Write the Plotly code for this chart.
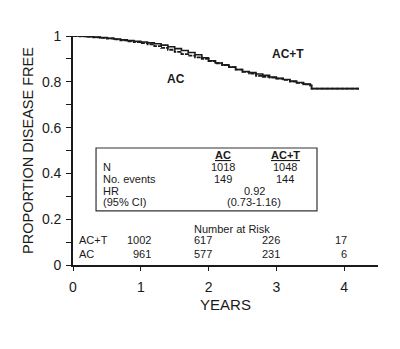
import plotly.graph_objects as go

# Kaplan-Meier step curves (years, proportion disease free)
years = [0, 0.1, 0.2, 0.3, 0.4, 0.5, 0.6, 0.7, 0.8, 0.9, 1.0, 1.1, 1.2, 1.3, 1.4, 1.5, 1.6, 1.7, 1.8, 1.9,
         2.0, 2.1, 2.2, 2.3, 2.4, 2.5, 2.6, 2.7, 2.8, 2.9, 3.0, 3.1, 3.2, 3.3, 3.4, 3.5, 3.52, 4.22]
surv_act = [1.0, 0.999, 0.997, 0.995, 0.993, 0.99, 0.987, 0.983, 0.98, 0.977,
            0.974, 0.97, 0.966, 0.96, 0.953, 0.945, 0.937, 0.928, 0.918, 0.905,
            0.892, 0.882, 0.874, 0.864, 0.854, 0.845, 0.84, 0.834, 0.828, 0.821,
            0.815, 0.81, 0.803, 0.797, 0.79, 0.785, 0.77, 0.77]
surv_ac = [1.0, 0.999, 0.997, 0.994, 0.992, 0.989, 0.985, 0.981, 0.977, 0.973,
           0.969, 0.963, 0.956, 0.948, 0.94, 0.931, 0.921, 0.914, 0.907, 0.9,
           0.89, 0.881, 0.873, 0.864, 0.853, 0.843, 0.836, 0.826, 0.822, 0.818,
           0.814, 0.808, 0.801, 0.795, 0.789, 0.783, 0.77, 0.77]

# Number at risk table
risk_times = [1, 2, 3, 4]
risk_act = [1002, 617, 226, 17]
risk_ac = [961, 577, 231, 6]

# Summary statistics
groups = ["AC", "AC+T"]
n_patients = [1018, 1048]
n_events = [149, 144]
hazard_ratio = "0.92"
hr_ci = "(0.73-1.16)"

yticks = [0, 0.2, 0.4, 0.6, 0.8, 1.0]
yticktext = ["0", "0.2", "0.4", "0.6", "0.8", "1"]
xticks = [0, 1, 2, 3, 4]

FONT = "Liberation Sans, Arial, sans-serif"
INK = "#1a1a1a"

fig = go.Figure()
fig.add_trace(go.Scatter(x=years, y=surv_ac, mode="lines",
                         line=dict(shape="hv", color=INK, width=1.8, dash="4px,1px"), name="AC"))
fig.add_trace(go.Scatter(x=years, y=surv_act, mode="lines",
                         line=dict(shape="hv", color=INK, width=1.6), name="AC+T"))

ann = []
def txt(x, y, s, size=11, xanchor="center", bold=False):
    if bold:
        s = "<b>" + s + "</b>"
    ann.append(dict(x=x, y=y, xref="x", yref="y", text=s, showarrow=False,
                    xanchor=xanchor, yanchor="middle",
                    font=dict(family=FONT, size=size, color=INK)))

# curve labels
txt(3.17, 0.921, "AC+T", size=12, bold=True)
txt(1.52, 0.812, "AC", size=12, bold=True)

# summary box
fig.add_shape(type="rect", x0=0.34, x1=3.6, y0=0.236, y1=0.511, xref="x", yref="y",
              line=dict(color="#333", width=1.2))
col_x = [2.22, 3.13]
row_y = [0.48, 0.428, 0.375, 0.325, 0.277]
txt(0.41, row_y[1], "N", xanchor="left")
txt(0.41, row_y[2], "No. events", xanchor="left")
txt(0.41, row_y[3], "HR", xanchor="left")
txt(0.41, row_y[4], "(95% CI)", xanchor="left")
for cx, g, n, e in zip(col_x, groups, n_patients, n_events):
    txt(cx, row_y[0], "<u>" + g + "</u>", bold=True)
    txt(cx, row_y[1], str(n))
    txt(cx, row_y[2], str(e))
mid = (col_x[0] + col_x[1]) / 2
txt(mid, row_y[3], hazard_ratio)
txt(mid, row_y[4], hr_ci)

# number at risk
txt(2.35, 0.157, "Number at Risk")
txt(0.06, 0.11, "AC+T", xanchor="left")
txt(0.06, 0.048, "AC", xanchor="left")
col_shift = [0.18, 0.08, 0.08, 0.07]
for t, a, b, dx in zip(risk_times, risk_act, risk_ac, col_shift):
    txt(t + dx, 0.11, str(a), xanchor="right")
    txt(t + dx, 0.048, str(b), xanchor="right")

fig.update_layout(
    width=400, height=349,
    margin=dict(l=73, r=22, t=36, b=84),
    paper_bgcolor="white", plot_bgcolor="white",
    showlegend=False,
    annotations=ann,
    font=dict(family=FONT, color=INK),
    xaxis=dict(range=[0, 4.5], tickvals=xticks, ticks="outside", ticklen=4, tickwidth=1.2,
               tickcolor=INK, showline=True, linecolor=INK, linewidth=1.6, showgrid=False,
               zeroline=False, ticklabelstandoff=4, tickfont=dict(size=14, family=FONT, color=INK),
               title=dict(text="YEARS", font=dict(size=15, family=FONT, color=INK), standoff=6)),
    yaxis=dict(range=[0, 1], tickvals=yticks, ticktext=yticktext, ticks="outside", ticklen=5,
               tickwidth=1.2, tickcolor=INK, showline=True, linecolor=INK, linewidth=1.6,
               showgrid=False, zeroline=False, ticklabelstandoff=2,
               minor=dict(dtick=0.1, ticks="outside", ticklen=5, tickwidth=1.2, tickcolor=INK, showgrid=False),
               tickfont=dict(size=14, family=FONT, color=INK),
               title=dict(text="PROPORTION DISEASE FREE", font=dict(size=14.5, family=FONT, color=INK), standoff=5)),
)

fig.write_html("out.html")
